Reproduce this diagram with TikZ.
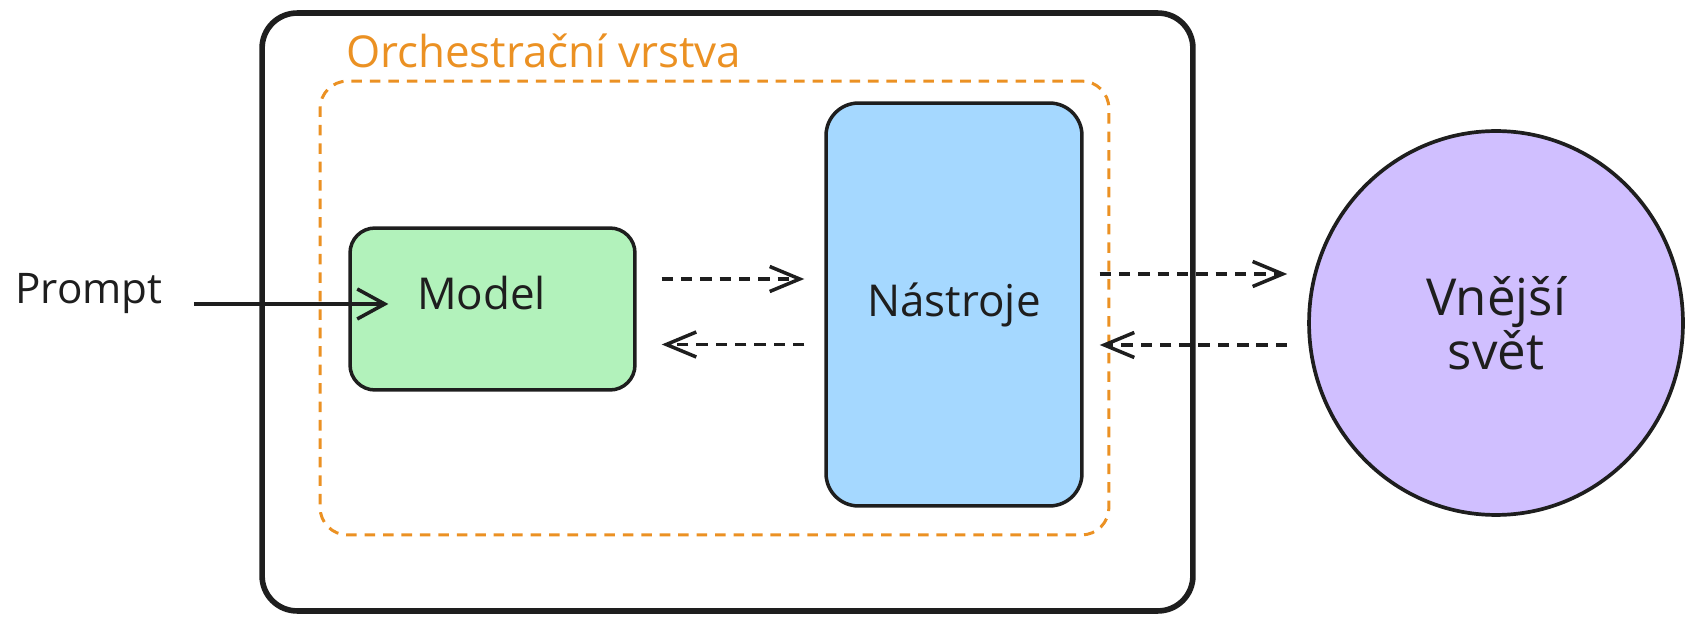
\documentclass[tikz,border=0pt]{standalone}
\usepackage{fontspec}
\setmainfont{Open Sans}
\usepackage{tikz}
\usetikzlibrary{positioning, shapes.geometric, arrows.meta}
\definecolor{inkdark}{RGB}{30, 30, 30}
\definecolor{orchorange}{RGB}{235, 145, 35}
\definecolor{modelgreen}{RGB}{178, 242, 187}
\definecolor{toolblue}{RGB}{165, 216, 255}
\definecolor{worldviolet}{RGB}{208, 191, 255}

\begin{document}
\begin{tikzpicture}[
            x=0.02cm, y=-0.02cm,
            outerbox/.style={draw=inkdark, line width=3.2pt, rounded corners=0.7cm, minimum width=18.62cm, minimum height=11.96cm},
            group/.style={draw=orchorange, line width=1.7pt, dash pattern=on 6pt off 4.5pt, rounded corners=0.55cm, minimum width=15.78cm, minimum height=9.08cm},
            block/.style={draw=inkdark, line width=2pt, rounded corners=0.5cm, font=\fontsize{25}{30}\selectfont, text=inkdark},
            flow/.style={-{Straight Barb[length=0.6cm, width=0.5cm, line width=2pt]}, line width=2pt, inkdark, dash pattern=on 6.5pt off 4.5pt},
            feed/.style={-{Straight Barb[length=0.55cm, width=0.6cm, line width=2pt]}, line width=2pt, inkdark}
        ]
            \useasboundingbox (0,0) rectangle (1689,624);

            \node[outerbox] (orch) at (727.5,312) {};
            \node[group] (layer) at (714.5,308) {};
            \node[anchor=west, text=orchorange, font=\fontsize{25}{30}\selectfont] (title) at (340,51) {Orchestrační vrstva};

            \node[block, fill=modelgreen, minimum width=5.7cm, minimum height=3.24cm,
                  label={[name=modeltxt, font=\fontsize{25}{30}\selectfont, text=inkdark, xshift=-0.22cm, yshift=0.32cm]center:Model}] (model) at (492.5,309) {};
            \node[block, fill=toolblue, rounded corners=0.65cm, minimum width=5.12cm, minimum height=8.06cm] (tools) at (954,304.5) {Nástroje};
            \node[draw=inkdark, line width=2.1pt, ellipse, fill=worldviolet, minimum width=7.48cm, minimum height=7.68cm,
                  align=center, font=\fontsize{29}{31}\selectfont, text=inkdark] (world) at (1496,323) {Vnější\\svět};

            \node[font=\fontsize{24}{30}\selectfont, text=inkdark] (prompt) at (89,294) {Prompt};

            \draw[feed, shorten <=0.5cm, shorten >=0.45cm] (prompt.base east) -- (prompt.base east -| modeltxt.west);
            \draw[flow, shorten <=0.5cm, shorten >=0.4cm] ([yshift=0.6cm]model.east) -- ([yshift=0.6cm]model.east -| tools.west);
            \draw[flow, shorten <=0.4cm, shorten >=0.5cm] ([yshift=-0.8cm]tools.west) -- ([yshift=-0.8cm]tools.west -| model.east);
            \draw[flow, shorten <=0.32cm, shorten >=0.4cm] ([yshift=0.61cm]tools.east) -- ([yshift=0.61cm]tools.east -| world.west);
            \draw[flow, shorten <=0.4cm, shorten >=0.32cm] ([yshift=-0.81cm]tools.east -| world.west) -- ([yshift=-0.81cm]tools.east);
        \end{tikzpicture}
\end{document}
